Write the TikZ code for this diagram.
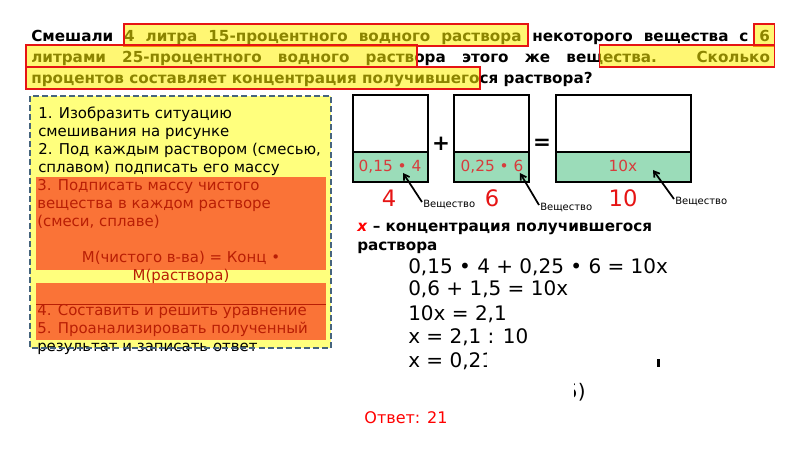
\documentclass[tikz,border=0pt]{standalone}
\usepackage{fontspec}
\setmainfont{DejaVu Sans}
\usetikzlibrary{arrows.meta}
\definecolor{hlred}{RGB}{230,20,20}
\definecolor{boxyellow}{RGB}{255,255,125}
\definecolor{boxorange}{RGB}{250,115,55}
\definecolor{orangetext}{RGB}{185,30,5}
\definecolor{dashcol}{RGB}{70,100,125}
\definecolor{greenfill}{RGB}{155,220,185}
\definecolor{boxtext}{RGB}{215,60,60}
\definecolor{numred}{RGB}{230,20,20}
\tikzset{
  topline/.style={anchor=base west,inner sep=0pt,font=\fontsize{11.4}{14}\selectfont\bfseries},
  hlbox/.style={draw=hlred,line width=0.9pt,fill=yellow,fill opacity=0.55},
  lefttext/.style={anchor=base west,inner sep=0pt,font=\fontsize{11.2}{13}\selectfont},
  eqtext/.style={anchor=base west,inner sep=0pt,font=\fontsize{15}{17}\selectfont},
  inbox/.style={inner sep=0pt,anchor=base,text=boxtext,font=\fontsize{11.5}{13}\selectfont},
  bignum/.style={inner sep=0pt,anchor=base,text=numred,font=\fontsize{17}{20}\selectfont},
  veshch/.style={inner sep=0pt,anchor=base west,font=\fontsize{7.5}{9}\selectfont},
  varrow/.style={line width=1.3pt,-{Straight Barb[length=4pt,width=5pt]}},
  vessel/.style={draw=black,line width=0.8pt},
  deftext/.style={anchor=base west,inner sep=0pt,font=\fontsize{11.4}{13}\selectfont\bfseries}
}
\begin{document}
\begin{tikzpicture}[x=0.75pt,y=-0.75pt]
\path[use as bounding box,fill=white] (0,0) rectangle (800,449);
% top paragraph
\node[topline] (l1) at (31,42) {\makebox[554pt][s]{Смешали 4 литра 15-процентного водного раствора некоторого вещества с 6}};
\node[topline] (l2) at (31,63) {\makebox[554pt][s]{литрами 25-процентного водного раствора этого же вещества. Сколько}};
\node[topline] (l3) at (31,84) {процентов составляет концентрация получившегося раствора?};
\path[hlbox] (124,24) rectangle (528,46);
\path[hlbox] (754,24) rectangle (774.5,46);
\path[hlbox] (26,45) rectangle (417,67);
\path[hlbox] (599.5,45) rectangle (774.5,67);
\path[hlbox] (26,67) rectangle (480,89);
% left box
\fill[boxyellow] (30,96) rectangle (331,348);
\fill[boxorange] (36,177) rectangle (326,270);
\fill[boxorange] (36,283) rectangle (326,340);
\draw[orangetext,line width=0.5pt] (36,304) -- (326,304);
\node[lefttext] (t1) at (38,119) {1. Изобразить ситуацию};
\node[lefttext] (t2) at (38,136.9) {смешивания на рисунке};
\node[lefttext] (t3) at (38,154.8) {2. Под каждым раствором (смесью,};
\node[lefttext] (t4) at (38,172.7) {сплавом) подписать его массу};
\node[lefttext,text=orangetext] (t5) at (37,190.6) {3. Подписать массу чистого};
\node[lefttext,text=orangetext] (t6) at (37,208.5) {вещества в каждом растворе};
\node[lefttext,text=orangetext] (t7) at (37,226.4) {(смеси, сплаве)};
\node[lefttext,text=orangetext,anchor=base] (t8) at (181,262.2) {М(чистого в-ва) = Конц •};
\node[lefttext,text=orangetext,anchor=base] (t9) at (181,280.1) {М(раствора)};
\node[lefttext,text=orangetext] (t10) at (37,315.9) {4. Составить и решить уравнение};
\node[lefttext,text=orangetext] (t11) at (37,333.8) {5. Проанализировать полученный};
\node[lefttext] (t12) at (37,351.7) {результат и записать ответ};
\draw[dashcol,line width=1.9pt,dash pattern=on 4.5pt off 2.3pt] (30,96) rectangle (331,348);
% vessels
\fill[greenfill] (353,152) rectangle (428,182);
\fill[greenfill] (454,152) rectangle (529,182);
\fill[greenfill] (556,152) rectangle (691,182);
\draw[vessel] (353,95) rectangle (428,182) (353,152) -- (428,152);
\draw[vessel] (454,95) rectangle (529,182) (454,152) -- (529,152);
\draw[vessel] (556,95) rectangle (691,182) (556,152) -- (691,152);
\node[inner sep=0pt,font=\fontsize{16}{18}\selectfont\bfseries] (plus) at (441,144) {+};
\node[inner sep=0pt,font=\fontsize{16}{18}\selectfont\bfseries] (eq) at (542,144) {=};
\node[inbox] (c1) at (390,172) {0,15 • 4};
\node[inbox] (c2) at (492,172) {0,25 • 6};
\node[inbox] (c3) at (623,172) {10x};
\node[bignum] (m1) at (389,207) {4};
\node[bignum] (m2) at (492,207) {6};
\node[bignum] (m3) at (623,207) {10};
\node[veshch] (v1) at (423,208) {Вещество};
\node[veshch] (v2) at (540,211) {Вещество};
\node[veshch] (v3) at (675,205) {Вещество};
\coordinate (a1) at (403,173);
\coordinate (a2) at (520,173);
\coordinate (a3) at (653,170);
\draw[varrow] (v1.west) ++(-1,-3) -- (a1);
\draw[varrow] (v2.west) ++(-1,-3) -- (a2);
\draw[varrow] (v3.west) ++(-1,-3) -- (a3);
% explanation
\node[deftext] (xdef) at (357,232) {\textcolor{red}{\textit{x}} – концентрация получившегося};
\node[deftext] (xdef2) at (357,250) {раствора};
\node[eqtext] (e1) at (408,273) {0,15 • 4 + 0,25 • 6 = 10x};
\node[eqtext] (e2) at (408,296) {0,6 + 1,5 = 10x};
\node[eqtext] (e3) at (408,320) {10x = 2,1};
\node[eqtext] (e4) at (408,343) {x = 2,1 : 10};
\node[eqtext] (e5) at (408,367) {x = 0,21};
\node[eqtext,anchor=base east] (e6) at (586,398) {5)};
\fill[white] (487,352) rectangle (655,372);
\fill[white] (487,372) rectangle (574,405);
\fill[black] (657,359) rectangle (659.5,367);
% answer
\node[inner sep=0pt,anchor=base,text=red,font=\fontsize{12}{14}\selectfont] (ans) at (406,423) {Ответ: 21};
\end{tikzpicture}
\end{document}
